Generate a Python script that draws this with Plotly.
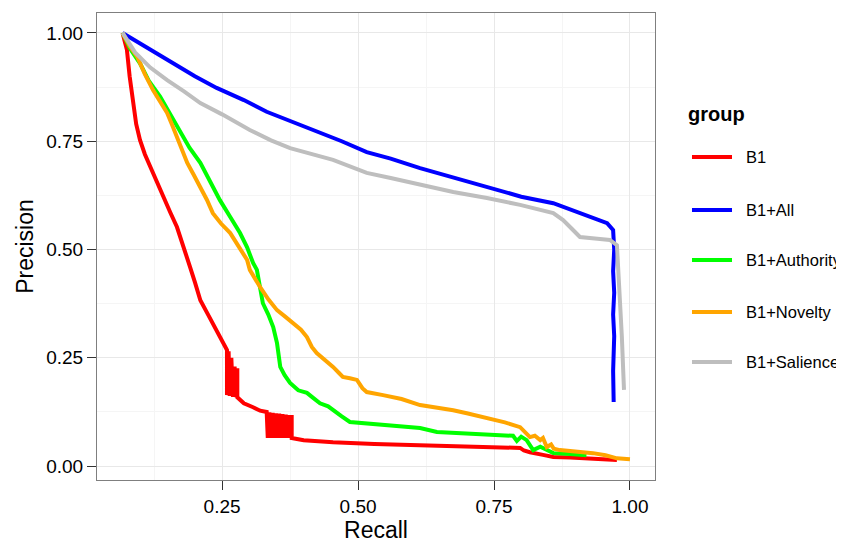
import plotly.graph_objects as go

groups = ["B1", "B1+All", "B1+Authority", "B1+Novelty", "B1+Salience"]
colors = ["#FF0000", "#0000FF", "#00FF00", "#FFA500", "#BEBEBE"]

b1_recall = [0.067, 0.071, 0.075, 0.08, 0.086, 0.092, 0.099, 0.108, 0.118, 0.13, 0.142, 0.155, 0.167, 0.18,
             0.191, 0.20, 0.21, 0.222, 0.233, 0.243, 0.252, 0.259,
             0.259, 0.262, 0.264, 0.267, 0.270, 0.273, 0.276, 0.278, 0.278,
             0.29, 0.307, 0.32, 0.332,
             0.334, 0.337, 0.340, 0.343, 0.346, 0.349, 0.352, 0.355, 0.358, 0.361, 0.364, 0.367, 0.370,
             0.373, 0.376, 0.378, 0.378,
             0.40, 0.454, 0.53, 0.614, 0.70, 0.798, 0.805, 0.816, 0.84, 0.859, 0.89, 0.92, 0.95, 0.976]
b1_precision = [1.0, 0.98, 0.961, 0.90, 0.838, 0.79, 0.753, 0.72, 0.691, 0.655, 0.621, 0.585, 0.552, 0.505,
                0.46, 0.425, 0.383, 0.355, 0.33, 0.305, 0.284, 0.268,
                0.164, 0.265, 0.162, 0.25, 0.16, 0.23, 0.159, 0.226, 0.159,
                0.145, 0.136, 0.128, 0.125,
                0.065, 0.124, 0.065, 0.123, 0.065, 0.122, 0.065, 0.121, 0.065, 0.120, 0.065, 0.119, 0.065,
                0.118, 0.065, 0.118, 0.065,
                0.06, 0.055, 0.051, 0.048, 0.045, 0.042, 0.036, 0.032, 0.026, 0.021, 0.02, 0.018, 0.016, 0.014]

all_recall = [0.067, 0.10, 0.149, 0.20, 0.24, 0.29, 0.332, 0.38, 0.424, 0.47, 0.516, 0.56, 0.614, 0.675,
              0.737, 0.80, 0.859, 0.92, 0.958, 0.969, 0.971, 0.969, 0.971, 0.969, 0.971, 0.969, 0.970]
all_precision = [1.0, 0.975, 0.94, 0.90, 0.873, 0.845, 0.818, 0.795, 0.772, 0.75, 0.725, 0.71, 0.688, 0.667,
                 0.645, 0.622, 0.607, 0.578, 0.561, 0.545, 0.50, 0.45, 0.40, 0.35, 0.30, 0.22, 0.148]

auth_recall = [0.067, 0.08, 0.099, 0.115, 0.136, 0.155, 0.173, 0.19, 0.21, 0.228, 0.246, 0.265, 0.283,
               0.296, 0.307, 0.314, 0.325, 0.335, 0.344, 0.351, 0.357, 0.365, 0.375, 0.39, 0.406, 0.418,
               0.43, 0.445, 0.454, 0.47, 0.485, 0.52, 0.546, 0.58, 0.614, 0.645, 0.70, 0.767, 0.785,
               0.792, 0.80, 0.81, 0.822, 0.835, 0.859, 0.89, 0.92]
auth_precision = [1.0, 0.965, 0.93, 0.89, 0.853, 0.81, 0.769, 0.735, 0.70, 0.655, 0.614, 0.575, 0.538,
                  0.505, 0.469, 0.453, 0.376, 0.35, 0.321, 0.284, 0.229, 0.21, 0.192, 0.175, 0.169, 0.157,
                  0.145, 0.138, 0.129, 0.115, 0.102, 0.098, 0.095, 0.092, 0.088, 0.079, 0.076, 0.072, 0.07,
                  0.058, 0.068, 0.06, 0.037, 0.045, 0.03, 0.028, 0.025]

nov_recall = [0.067, 0.08, 0.094, 0.108, 0.123, 0.136, 0.149, 0.158, 0.167, 0.177, 0.186, 0.198, 0.21,
              0.222, 0.233, 0.248, 0.265, 0.28, 0.296, 0.301, 0.31, 0.32, 0.335, 0.351, 0.366, 0.381,
              0.395, 0.406, 0.415, 0.424, 0.44, 0.454, 0.465, 0.472, 0.485, 0.498, 0.508, 0.516, 0.546,
              0.58, 0.614, 0.645, 0.675, 0.70, 0.737, 0.77, 0.798, 0.808, 0.816, 0.825, 0.835, 0.84,
              0.847, 0.855, 0.86, 0.871, 0.90, 0.932, 0.955, 0.976, 1.0]
nov_precision = [1.0, 0.97, 0.945, 0.905, 0.868, 0.84, 0.815, 0.788, 0.76, 0.73, 0.70, 0.672, 0.645,
                 0.615, 0.584, 0.56, 0.538, 0.51, 0.476, 0.453, 0.432, 0.413, 0.385, 0.36, 0.345, 0.330,
                 0.315, 0.298, 0.275, 0.261, 0.245, 0.229, 0.215, 0.206, 0.203, 0.199, 0.18, 0.171, 0.164,
                 0.155, 0.141, 0.135, 0.129, 0.122, 0.111, 0.101, 0.09, 0.078, 0.067, 0.07, 0.06, 0.065,
                 0.044, 0.05, 0.04, 0.037, 0.034, 0.03, 0.025, 0.018, 0.016]

sal_recall = [0.067, 0.09, 0.118, 0.149, 0.18, 0.21, 0.25, 0.301, 0.34, 0.375, 0.454, 0.516, 0.56, 0.614,
              0.675, 0.737, 0.798, 0.859, 0.877, 0.893, 0.908, 0.94, 0.963, 0.976, 0.979, 0.982, 0.985, 0.989]
sal_precision = [1.0, 0.955, 0.92, 0.891, 0.865, 0.838, 0.812, 0.776, 0.752, 0.734, 0.707, 0.677, 0.665,
                 0.649, 0.633, 0.619, 0.603, 0.584, 0.568, 0.548, 0.529, 0.525, 0.522, 0.51, 0.45, 0.38,
                 0.30, 0.176]

series = [(b1_recall, b1_precision), (all_recall, all_precision), (auth_recall, auth_precision),
          (nov_recall, nov_precision), (sal_recall, sal_precision)]

tick_vals_x = [0.25, 0.50, 0.75, 1.00]
tick_text_x = ["0.25", "0.50", "0.75", "1.00"]
tick_vals_y = [0.00, 0.25, 0.50, 0.75, 1.00]
tick_text_y = ["0.00", "0.25", "0.50", "0.75", "1.00"]
minor_x = [0.125, 0.375, 0.625, 0.875]
minor_y = [0.125, 0.375, 0.625, 0.875]
legend_title = "group"

fig = go.Figure()
for name, color, (xs, ys) in zip(groups, colors, series):
    fig.add_trace(go.Scatter(x=xs, y=ys, mode="lines", name=name, showlegend=False,
                             line=dict(color=color, width=4)))

# Legend drawn in paper coordinates (ggplot-style key: long line + label)
legend_item_y = [0.6916, 0.5782, 0.4711, 0.3597, 0.2527]
for name, color, ly in zip(groups, colors, legend_item_y):
    fig.add_shape(type="line", xref="paper", yref="paper", x0=1.0663, x1=1.138, y0=ly, y1=ly,
                  line=dict(color=color, width=4))
    fig.add_annotation(xref="paper", yref="paper", x=1.1595, y=ly, text=name, showarrow=False,
                       xanchor="left", yanchor="middle", font=dict(size=16.5, color="#000000"))
fig.add_annotation(xref="paper", yref="paper", x=1.0556, y=0.7837, text="<b>" + legend_title + "</b>",
                   showarrow=False, xanchor="left", yanchor="middle", font=dict(size=20, color="#000000"))

font_family = "Liberation Sans, Arial, Helvetica, sans-serif"
axis_common = dict(
    showline=True, mirror=True, linecolor="#7f7f7f", linewidth=1,
    ticks="outside", ticklen=9, tickcolor="#333333", tickwidth=1,
    showgrid=True, gridcolor="#e8e8e8", gridwidth=1, zeroline=False, automargin=False,
    tickfont=dict(size=19, color="#000000", family=font_family),
)
# page body has an 8px margin: offsets compensate so the panel lands at the reference position
fig.update_layout(
    width=844, height=540,
    margin=dict(l=89, r=197, t=5, b=68, autoexpand=False),
    paper_bgcolor="white", plot_bgcolor="white",
    font=dict(family=font_family, color="#000000"),
    showlegend=False,
    xaxis=dict(range=[0.020, 1.046], tickvals=tick_vals_x, ticktext=tick_text_x,
               title=dict(text="Recall", font=dict(size=23), standoff=5),
               minor=dict(tickvals=minor_x, showgrid=True, gridcolor="#f5f5f5", ticks=""),
               **axis_common),
    yaxis=dict(range=[-0.032, 1.046], tickvals=tick_vals_y, ticktext=tick_text_y,
               title=dict(text="Precision", font=dict(size=23), standoff=6),
               minor=dict(tickvals=minor_y, showgrid=True, gridcolor="#f5f5f5", ticks=""),
               **axis_common),
)

fig.write_html("out.html")
